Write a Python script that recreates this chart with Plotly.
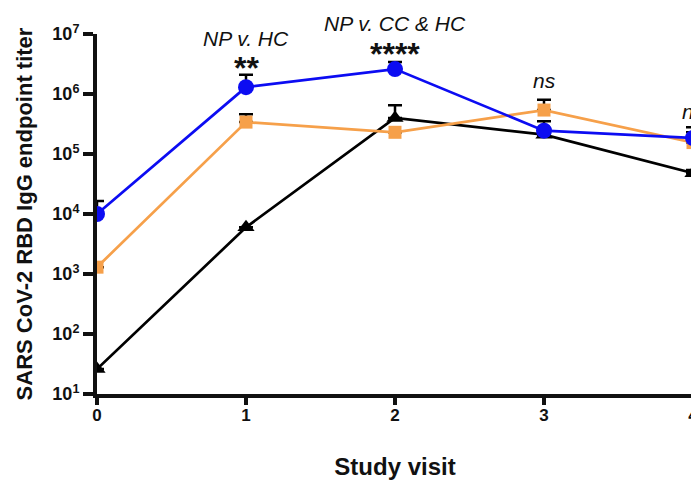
import plotly.graph_objects as go

visits = [0, 1, 2, 3, 4]

# Geometric mean titers (upper error bar ends in *_top)
np_vals = [1.0e4, 1.3e6, 2.6e6, 2.45e5, 1.85e5]
np_top = [1.65e4, 2.1e6, 3.4e6, 3.5e5, 2.8e5]

cc_vals = [1.3e3, 3.4e5, 2.3e5, 5.4e5, 1.55e5]
cc_top = [1.3e3, 4.6e5, 2.3e5, 8.0e5, 2.3e5]

hc_vals = [26, 6.0e3, 4.0e5, 2.1e5, 4.8e4]
hc_top = [26, 6.0e3, 6.5e5, 2.7e5, 5.4e4]

y_tickvals = [1e1, 1e2, 1e3, 1e4, 1e5, 1e6, 1e7]
y_ticktext = ["10<sup>1</sup>", "10<sup>2</sup>", "10<sup>3</sup>", "10<sup>4</sup>",
              "10<sup>5</sup>", "10<sup>6</sup>", "10<sup>7</sup>"]

sig_x = [1, 2, 3, 4]
sig_group = ["NP v. HC", "NP v. CC & HC", "", ""]
sig_stars = ["**", "****", "ns", "ns"]

FONT = "Arial, Liberation Sans, sans-serif"

def err(vals, tops):
    return [max(t - v, 0) for v, t in zip(vals, tops)]

fig = go.Figure()

series = [
    ("HC", hc_vals, hc_top, "#000000", "triangle-up", 15),
    ("CC", cc_vals, cc_top, "#F6A04A", "square", 13),
    ("NP", np_vals, np_top, "#0C0CF2", "circle", 16),
]
for name, vals, tops, color, sym, size in series:
    fig.add_trace(go.Scatter(
        x=visits, y=vals, name=name, mode="lines+markers",
        line=dict(color=color, width=2.7),
        marker=dict(symbol=sym, size=size, color=color, line=dict(width=0)),
        error_y=dict(type="data", symmetric=False, array=err(vals, tops),
                     arrayminus=[0] * len(vals), color="#000000",
                     thickness=2.5, width=7),
        cliponaxis=True,
        showlegend=False,
    ))

# annotation heights expressed as pixel rows relative to a 360 px tall plot area
def py(pix):
    return (393 - pix) / 360.0

ann_y_group = [py(38), py(22)]
ann_y_star = [py(67), py(53), py(79), py(110)]
for i, x in enumerate(sig_x):
    if sig_group[i]:
        fig.add_annotation(x=x, y=ann_y_group[i], xref="x", yref="paper",
                           text="<i>" + sig_group[i] + "</i>", showarrow=False,
                           font=dict(family=FONT, size=21, color="#111111"),
                           yanchor="middle")
    s = sig_stars[i]
    if s == "ns":
        fig.add_annotation(x=x, y=ann_y_star[i], xref="x", yref="paper",
                           text="<i>ns</i>", showarrow=False,
                           font=dict(family=FONT, size=21, color="#111111"),
                           yanchor="middle")
    else:
        fig.add_annotation(x=x, y=ann_y_star[i], xref="x", yref="paper",
                           text="<b>" + s + "</b>", showarrow=False,
                           font=dict(family=FONT, size=32, color="#111111"),
                           yanchor="middle")

fig.update_layout(
    width=699, height=481,
    margin=dict(l=89, r=9, t=26, b=95),
    paper_bgcolor="white", plot_bgcolor="white",
    font=dict(family=FONT, color="#111111"),
    xaxis=dict(
        range=[0, 4], tickvals=visits, ticktext=[str(v) for v in visits],
        showgrid=False, zeroline=False, showline=True, linecolor="#111111",
        linewidth=4, ticks="outside", ticklen=7, tickwidth=3.5, tickcolor="#111111",
        ticklabelstandoff=-4,
        tickfont=dict(family=FONT, size=17, color="#111111", weight="bold"),
        title=dict(text="Study visit", standoff=35,
                   font=dict(family=FONT, size=24, color="#111111", weight="bold")),
    ),
    yaxis=dict(
        type="log", range=[1, 7], tickvals=y_tickvals, ticktext=y_ticktext,
        showgrid=False, zeroline=False, showline=True, linecolor="#111111",
        linewidth=4, ticks="outside", ticklen=10, tickwidth=3.5, tickcolor="#111111",
        tickfont=dict(family=FONT, size=18, color="#111111", weight="bold"),
        title=dict(text="SARS CoV-2 RBD IgG endpoint titer", standoff=15,
                   font=dict(family=FONT, size=22, color="#111111", weight="bold")),
    ),
)

fig.write_html("out.html")
